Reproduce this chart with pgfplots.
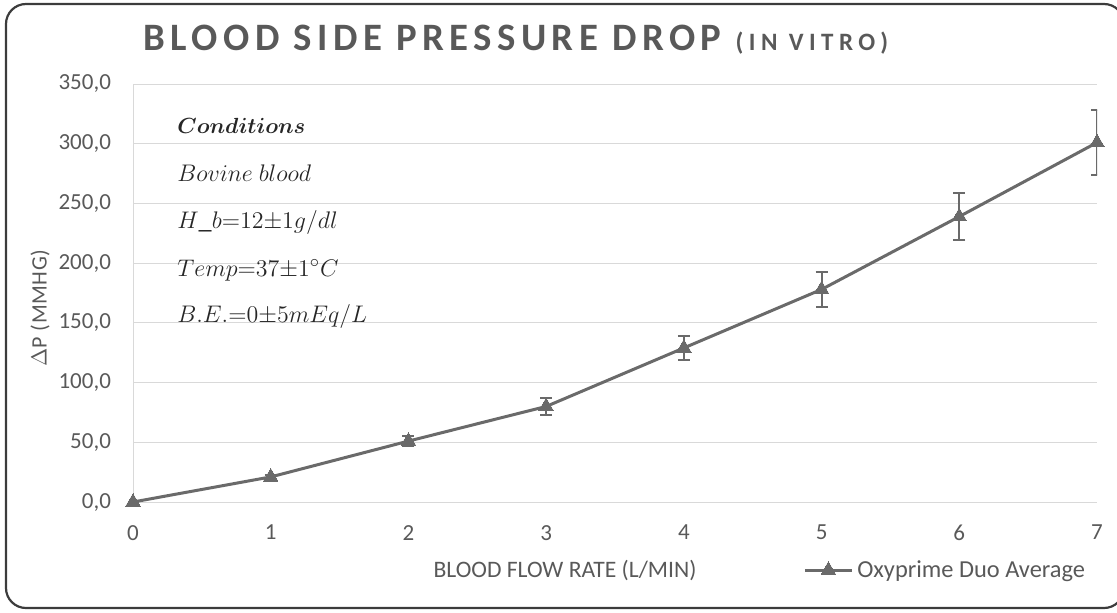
\documentclass[border=0pt]{standalone}
\usepackage{pgfplots}
\pgfplotsset{compat=1.18}
\usepackage{fontspec}
\setmainfont{Carlito}
\definecolor{txtgray}{HTML}{595959}
\definecolor{gridgray}{HTML}{D9D9D9}
\definecolor{linegray}{HTML}{6A6A6A}
\definecolor{bordergray}{HTML}{3C3C3C}
\definecolor{condcol}{HTML}{262626}
\tikzset{cond/.style={anchor=base west, inner sep=0pt, text=condcol, font=\fontsize{13.1}{15}\selectfont}}
\begin{document}
\begin{tikzpicture}
\useasboundingbox (0,0) rectangle (558.5pt,306pt);
\draw[bordergray, line width=1.1pt, rounded corners=10pt] (3pt,2pt) rectangle (562pt,304pt);
\begin{axis}[
  scale only axis,
  anchor=south west,
  at={(66.5pt,55pt)},
  width=482pt, height=209pt,
  xmin=0, xmax=7, ymin=0, ymax=350,
  xtick={0,1,...,7},
  xticklabels={0,1,2,3,4,5,6,7},
  ytick={0,50,...,350},
  yticklabels={{0,0},{50,0},{100,0},{150,0},{200,0},{250,0},{300,0},{350,0}},
  ymajorgrids, grid style={gridgray, line width=0.5pt},
  axis x line*=bottom, axis y line*=left,
  axis line style={gridgray, line width=0.5pt, -},
  major tick length=0pt,
  tick label style={font=\fontsize{11.5}{13}\selectfont, text=txtgray},
  yticklabel style={xshift=-7.5pt},
  xticklabel style={yshift=-8pt},
  legend style={at={(axis description cs:0.695,-0.163)}, anchor=west, draw=none, fill=none,
    font=\fontsize{12.2}{14}\selectfont, text=txtgray, inner sep=0pt},
  legend image code/.code={\draw[mark repeat=2,mark phase=2] plot coordinates {(0pt,0pt)(11.75pt,0pt)(23.5pt,0pt)};},
]
\addplot[linegray, line width=1.5pt, mark=triangle*, mark size=4.2pt,
  mark options={fill=linegray, draw=linegray, line width=0pt},
  error bars/.cd, y dir=both, y explicit,
  error bar style={linegray, line width=1pt},
  error mark options={rotate=90, mark size=3pt, linegray, line width=1pt}]
  table[x=x, y=y, y error=e] {
x y e
0 0 0
1 21 1.5
2 51 4
3 80 7
4 129 10
5 178 15
6 239 20
7 301 27
};
\addlegendentry{Oxyprime Duo Average}
\end{axis}
% title
\node[anchor=base west, inner sep=0pt, text=txtgray] at (71.5pt,280.5pt)
  {\fontsize{19.4}{21}\selectfont\bfseries\addfontfeature{LetterSpace=14}BLOOD SIDE PRESSURE DROP\ \fontsize{12.5}{13}\selectfont\addfontfeature{LetterSpace=22}(IN VITRO)};
% axis labels
\node[rotate=90, text=txtgray, inner sep=0pt] at (20pt,152pt) {\fontsize{11}{12}\selectfont\addfontfeature{LetterSpace=3}$\Delta$P (MMHG)};
\node[text=txtgray, inner sep=0pt] at (282.5pt,21pt) {\fontsize{11.8}{13}\selectfont BLOOD FLOW RATE (L/MIN)};
% conditions
\node[cond] at (88.5pt,239.35pt) {\fontsize{10.5}{13}\selectfont{\boldmath$Conditions$}};
\node[cond] at (88.5pt,215.5pt) {$Bovine\ blood$};
\node[cond] at (88.5pt,192pt) {$H\_b{=}12{\pm}1g/dl$};
\node[cond] at (88.5pt,167.65pt) {$Temp{=}37{\pm}1^\circ C$};
\node[cond] at (88.5pt,144.65pt) {$B.E.{=}0{\pm}5mEq/L$};
\end{tikzpicture}
\end{document}
